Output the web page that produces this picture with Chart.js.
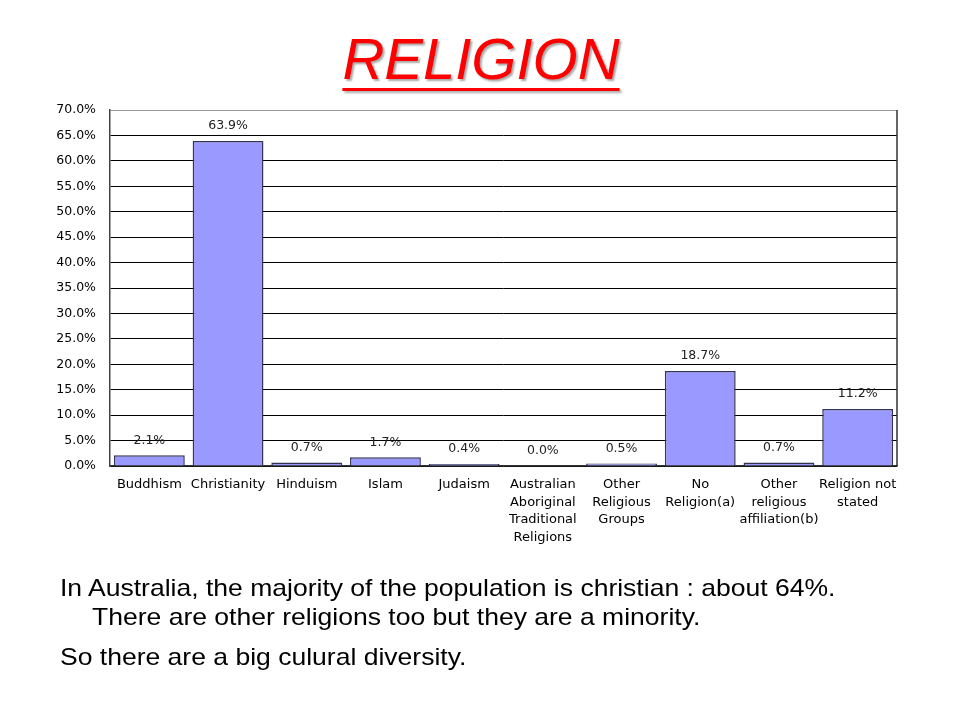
<!DOCTYPE html>
<html>
<head>
<meta charset="utf-8">
<script src="https://cdn.jsdelivr.net/npm/chart.js@4"></script>
<style>
  html, body { margin: 0; padding: 0; background: #fff; }
  body { width: 960px; height: 720px; position: relative; overflow: hidden; }
  #title {
    position: absolute; left: 0; top: 25px; width: 962px; text-align: center;
    font-family: "Liberation Sans", Arial, sans-serif; font-style: italic;
    font-size: 58px; color: #ff0000; text-decoration: underline;
    text-decoration-thickness: 3px; text-underline-offset: 9px;
    text-shadow: 2px 2px 2px #aaa;
  }
  #wrap { position: absolute; left: 0; top: 0; width: 960px; height: 560px; }
  .txt {
    position: absolute; font-family: "Liberation Sans", Arial, sans-serif;
    font-size: 24px; color: #000; white-space: nowrap;
    transform: scaleX(1.105); transform-origin: 0 0;
  }
</style>
</head>
<body>
<div id="title">RELIGION</div>
<div id="wrap"><canvas id="chart"></canvas></div>
<div class="txt" style="left:60px; top:574px;">In Australia, the majority of the population is christian : about 64%.</div>
<div class="txt" style="left:92px; top:603px;">There are other religions too but they are a minority.</div>
<div class="txt" style="left:60px; top:643px;">So there are a big culural diversity.</div>
<script>
// categories and values (percent of population)
var categories = [
    'Buddhism',
    'Christianity',
    'Hinduism',
    'Islam',
    'Judaism',
    ['Australian', 'Aboriginal', 'Traditional', 'Religions'],
    ['Other', 'Religious', 'Groups'],
    ['No', 'Religion(a)'],
    ['Other', 'religious', 'affiliation(b)'],
    ['Religion not', 'stated']
];
var values = [2.1, 63.9, 0.7, 1.7, 0.4, 0.0, 0.5, 18.7, 0.7, 11.2];
var yMin = 0, yMax = 70, yStep = 5;

var labelFont = '"DejaVu Sans", Verdana, sans-serif';

var barLabels = {
    id: 'barLabels',
    afterDatasetsDraw: function (chart) {
        var ctx = chart.ctx;
        var meta = chart.getDatasetMeta(0);
        ctx.save();
        ctx.font = '12.5px ' + labelFont;
        ctx.fillStyle = '#222';
        ctx.textAlign = 'center';
        ctx.textBaseline = 'middle';
        meta.data.forEach(function (bar, i) {
            ctx.fillText(values[i].toFixed(1) + '%', bar.x, bar.y - 15);
        });
        ctx.restore();
    }
};

var frame = {
    id: 'frame',
    afterDraw: function (chart) {
        var a = chart.chartArea, ctx = chart.ctx;
        ctx.save();
        ctx.strokeStyle = '#333';
        ctx.lineWidth = 1.5;
        ctx.beginPath();
        ctx.moveTo(a.right, a.top);
        ctx.lineTo(a.right, a.bottom);
        ctx.stroke();
        ctx.restore();
    }
};

var ctx = document.getElementById('chart').getContext('2d');
var myChart = new Chart(ctx, {
    type: 'bar',
    data: {
        labels: categories,
        datasets: [{
            data: values,
            backgroundColor: '#9999ff',
            borderColor: '#333355',
            borderWidth: 1.5,
            barPercentage: 0.9,
            categoryPercentage: 1.0
        }]
    },
    options: {
        responsive: true,
        maintainAspectRatio: false,
        animation: false,
        layout: { padding: { top: 110, right: 63, left: 0, bottom: 0 } },
        plugins: {
            legend: { display: false },
            tooltip: { enabled: false }
        },
        scales: {
            x: {
                grid: { display: false, drawTicks: false },
                border: { color: '#333', width: 1.5 },
                ticks: {
                    color: '#000',
                    font: { family: labelFont, size: 13, lineHeight: 1.35 },
                    padding: 10,
                    maxRotation: 0,
                    autoSkip: false
                },
                afterFit: function (s) { s.height = 94; }
            },
            y: {
                min: yMin,
                max: yMax,
                grid: {
                    color: function (c) { return c.tick && c.tick.value === yMax ? '#999' : '#000'; },
                    drawTicks: false
                },
                border: { color: '#444', width: 1.5 },
                ticks: {
                    stepSize: yStep,
                    color: '#000',
                    padding: 14,
                    font: { family: labelFont, size: 12.5 },
                    callback: function (v) { return v.toFixed(1) + '%'; }
                },
                afterFit: function (s) { s.width = 110; }
            }
        }
    },
    plugins: [barLabels, frame]
});
</script>
</body>
</html>
